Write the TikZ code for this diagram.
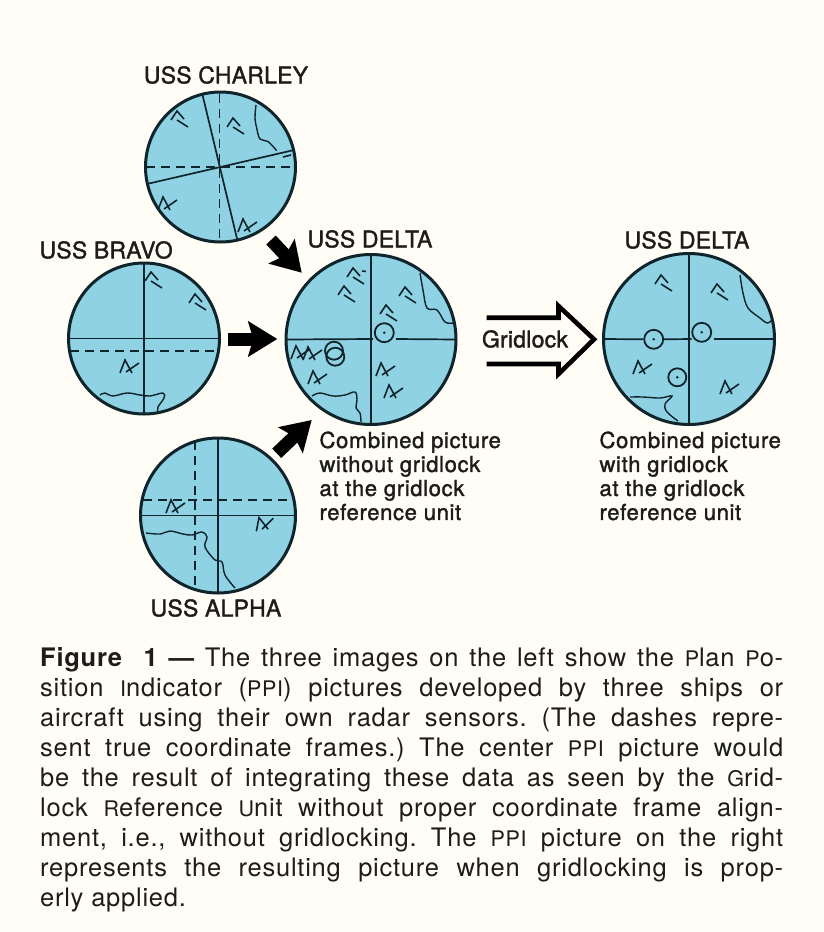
\documentclass[tikz,border=0pt]{standalone}
\usepackage{fontspec}
\setmainfont{TeX Gyre Heros}
\newfontfamily\capfont{TeX Gyre Heros}[LetterSpace=3]
\newfontfamily\shipfont{TeX Gyre Heros}[FakeBold=1.5,LetterSpace=1]
\newfontfamily\notefont{TeX Gyre Heros}[FakeBold=1.5,LetterSpace=3]
\usetikzlibrary{arrows.meta,positioning}
\definecolor{paper}{RGB}{255,253,246}
\definecolor{scope}{RGB}{143,210,227}
\definecolor{ink}{RGB}{16,36,44}
\definecolor{print}{RGB}{28,28,26}
\newcommand{\smcap}[1]{{\fontsize{21.5}{30}\selectfont #1}}
\tikzset{
  ppi/.style={circle, draw=ink, fill=scope, line width=3pt, inner sep=0pt, outer sep=0pt},
  axis/.style={ink, line width=1.7pt},
  trueframe/.style={ink, line width=1.8pt, dash pattern=on 9pt off 6pt},
  coast/.style={ink, line width=1.4pt},
  track/.style={ink, line width=1.6pt},
  fix/.style={circle, draw=ink, line width=1.8pt, minimum size=19pt, inner sep=0pt},
  shiplabel/.style={font=\shipfont\fontsize{23}{24}\selectfont, text=print},
  combined/.style={font=\notefont\fontsize{22}{24}\selectfont, text=print, align=left, anchor=north west},
  feed/.style={black, line width=13pt, -{Stealth[length=29pt,width=35pt,inset=5pt]}},
  pics/hostile/.style={code={\draw[track] (-6,5) -- (0,-4) -- (7,4) (0,5) -- (11,12);}},
  pics/friend/.style={code={\draw[track] (-8,7) -- (-3,-6) -- (4,7) (-2,6) -- (11,-3);}}
}
\begin{document}
\begin{tikzpicture}[x=1pt,y=-1pt]
  \useasboundingbox[fill=paper] (0,0) rectangle (824,932);
  % Charley
  \node[shiplabel] (charleylabel) at (226,75) {USS CHARLEY};
  \node[ppi, minimum size=150pt] (charley) at (220.5,167) {};
  \draw[trueframe] (219.5,94) -- (219.5,241);
  \draw[trueframe] (charley.west) -- (charley.east);
  \draw[axis] (charley.104) -- (charley.283);
  \draw[axis] (charley.13) -- (charley.193);
  \draw[coast] plot[smooth, tension=0.6] coordinates {(256,105) (255,118) (256.7,128) (260,139) (268,141.5) (276.7,150.7)};
  \draw[track] (283,157) -- (291,155);
  \foreach \x/\y in {177/115, 233/122} \pic at (\x,\y) {hostile};
  \foreach \x/\y in {166/203, 246/225} \pic at (\x,\y) {friend};
  % Bravo
  \node[shiplabel, anchor=west] (bravolabel) at (36,250) {USS BRAVO};
  \node[ppi, minimum size=151pt] (bravo) at (144,338.5) {};
  \draw[axis] (bravo.north) -- (bravo.south);
  \draw[axis] (bravo.west) -- (bravo.east);
  \draw[trueframe] (70,351) -- (219,351);
  \draw[coast] plot[smooth, tension=0.6] coordinates {(100,395) (105,393) (113,396) (127,393) (140,395) (150,396) (163,393) (164,398) (158,407) (158,412)};
  \foreach \x/\y in {151/276, 195/298} \pic at (\x,\y) {hostile};
  \pic at (128,366) {friend};
  % Delta before gridlock
  \node[shiplabel, anchor=west] (deltalabel) at (304,239) {USS DELTA};
  \node[ppi, minimum size=170pt] (delta) at (371,339.5) {};
  \node[fix] (fixa) at (384.3,332.7) {};
  \fill[ink] (fixa) circle (1.4pt);
  \node[fix, minimum size=18pt] (fixb) at (334,350.7) {};
  \node[fix, minimum size=18pt] (fixc) at (335.3,356.7) {};
  \draw[axis] (delta.north) -- (delta.south);
  \draw[axis] (delta.west) -- (373,339);
  \draw[axis] (396,339) -- (delta.east);
  \draw[coast] plot[smooth, tension=0.6] coordinates {(420,273) (423,290) (427,308) (437,310) (445,322) (453,323)};
  \draw[coast] plot[smooth, tension=0.6] coordinates {(312,396) (320,393) (333,396) (345,395) (355,392) (357,400) (356,408) (360,413) (361,422)};
  \foreach \x/\y in {353/272, 344/290, 405/291, 386/309} \pic at (\x,\y) {hostile};
  \draw[track] (362,271) -- (366,271.5);
  \foreach \x/\y in {299/352, 311/353, 316/377, 384/369, 392/391} \pic at (\x,\y) {friend};
  % Alpha
  \node[ppi, minimum size=155pt] (alpha) at (218,515.5) {};
  \node[shiplabel] (alphalabel) at (216,608) {USS ALPHA};
  \draw[trueframe] (195,441) -- (195,590);
  \draw[trueframe] (143,500) -- (292,500);
  \draw[axis] (alpha.north) -- (alpha.south);
  \draw[axis] (alpha.west) -- (alpha.east);
  \draw[coast] plot[smooth, tension=0.6] coordinates {(146,533) (160,534) (170,531) (183,534) (192,535) (202,532) (207,537) (205,547) (215,560) (222,562) (225,575) (235,588)};
  \pic at (174,506) {friend};
  \pic[rotate=10] at (263,523) {friend};
  % Delta after gridlock
  \node[shiplabel, anchor=west] (deltafinallabel) at (621,240) {USS DELTA};
  \node[ppi, minimum size=171pt] (deltafinal) at (689,339) {};
  \node[fix] (fixd) at (653.7,339.3) {};
  \node[fix] (fixe) at (701.7,332.3) {};
  \node[fix, minimum size=18pt] (fixf) at (677.3,377.3) {};
  \foreach \f in {fixd,fixe,fixf} \fill[ink] (\f) circle (1.4pt);
  \draw[axis] (deltafinal.north) -- (deltafinal.south);
  \draw[axis] (deltafinal.west) -- (fixd.west);
  \draw[axis] (fixd.east) -- (691.7,339);
  \draw[axis] (714,339) -- (deltafinal.east);
  \draw[coast] plot[smooth, tension=0.6] coordinates {(740,275) (743,293) (748,308) (760,318) (767,323) (772,320)};
  \draw[coast] plot[smooth, tension=0.6] coordinates {(630,397) (643,397) (660,398) (672,396) (665,404) (667,412) (678,421)};
  \foreach \x/\y in {661/279, 717/288} \pic at (\x,\y) {hostile};
  \foreach \x/\y in {641/367, 728/387} \pic at (\x,\y) {friend};
  % Feeds into the combined picture
  \coordinate (charleyout) at (271,240);
  \coordinate (charleyin) at (301.7,272.7);
  \coordinate (bravoout) at (227.7,339);
  \coordinate (bravoin) at (277.3,339);
  \coordinate (alphaout) at (276.7,453.3);
  \coordinate (alphain) at (311.7,420);
  \draw[feed] (charleyout) -- (charleyin);
  \draw[feed] (bravoout) -- (bravoin);
  \draw[feed] (alphaout) -- (alphain);
  % Open gridlock arrow
  \node[shiplabel] (gridlock) at (525,339) {Gridlock};
  \draw[black, line width=4.6pt, miter limit=4]
    (486.7,317.7) -- (558.5,317.7) -- (558.5,306) -- (594,339.3) -- (558.5,374) -- (558.5,364) -- (486.7,364);
  % Notes under the PPIs
  \node[combined] (notedelta) at (316,428) {Combined picture\\without gridlock\\at the gridlock\\reference unit};
  \node[combined] (notefinal) at (596,428) {Combined picture\\with gridlock\\at the gridlock\\reference unit};
  % Caption
  \node[anchor=north west, inner sep=0pt, text width=743pt, align=justify, text=print,
        font=\capfont\fontsize{25.5}{30}\selectfont\frenchspacing] (caption) at (40,647) {%
    \textbf{Figure\ \ 1 —} The three images on the left show the \smcap{P}lan \smcap{P}o-\linebreak
    sition \smcap{I}ndicator (\smcap{PPI}) pictures developed by three ships or\linebreak
    aircraft using their own radar sensors. (The dashes repre-\linebreak
    sent true coordinate frames.) The center \smcap{PPI} picture would\linebreak
    be the result of integrating these data as seen by the \smcap{G}rid-\linebreak
    lock \smcap{R}eference \smcap{U}nit without proper coordinate frame align-\linebreak
    ment, i.e., without gridlocking. The \smcap{PPI} picture on the right\linebreak
    represents the resulting picture when gridlocking is prop-\linebreak
    erly applied.};
\end{tikzpicture}
\end{document}
